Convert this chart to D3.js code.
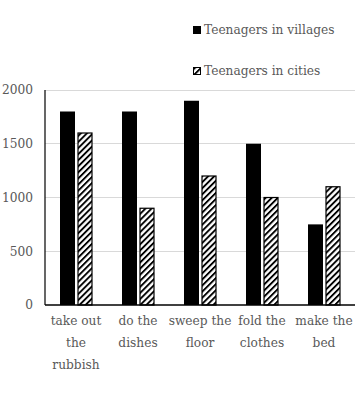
<!DOCTYPE html>
<html><head><meta charset="utf-8">
<script src="https://cdn.jsdelivr.net/npm/d3@7/dist/d3.min.js"></script>
<style>body{margin:0;background:#fff}svg{display:block}text{font-family:"DejaVu Serif",serif}</style>
</head><body>
<svg id="c" width="355" height="404"></svg>
<script>
const categories = [["take out","the","rubbish"],["do the","dishes"],["sweep the","floor"],["fold the","clothes"],["make the","bed"]];
const seriesNames = ["Teenagers in villages","Teenagers in cities"];
const villages = [1800,1800,1900,1500,750];
const cities = [1600,900,1200,1000,1100];
const yTicks = [0,500,1000,1500,2000];

(function(){
const svg = d3.select("#c");
const textColor = "#595959";
const fs = 12.2;
const pLeft = 45, pRight = 355, pTop = 90, pBottom = 305;

const defs = svg.append("defs");
const pat = defs.append("pattern").attr("id","hatch").attr("patternUnits","userSpaceOnUse")
  .attr("width",4.3).attr("height",4.3).attr("patternTransform","rotate(45)");
pat.append("rect").attr("width",4.3).attr("height",4.3).attr("fill","#fff");
pat.append("rect").attr("x",0).attr("y",0).attr("width",1.9).attr("height",4.3).attr("fill","#000");

const x = d3.scaleBand().domain(d3.range(categories.length)).range([pLeft, pRight]);
const y = d3.scaleLinear().domain([0,2000]).range([pBottom, pTop]);

svg.append("g").selectAll("line").data(yTicks.filter(d=>d>0)).join("line")
  .attr("x1",pLeft).attr("x2",pRight).attr("y1",d=>y(d)).attr("y2",d=>y(d))
  .attr("stroke","#d9d9d9").attr("stroke-width",1).attr("shape-rendering","crispEdges");

svg.append("g").selectAll("text").data(yTicks).join("text")
  .attr("x",33).attr("y",d=>y(d)).attr("dy","0.35em").attr("text-anchor","end")
  .attr("font-size",fs).attr("fill",textColor).text(d=>d);

const bw = 15, gap = 3;
const g = svg.append("g");
g.selectAll("rect.v").data(villages).join("rect").attr("class","v")
  .attr("x",(d,i)=>x(i)+x.bandwidth()/2 - bw - gap/2 + 0.5).attr("width",bw)
  .attr("y",d=>y(d)).attr("height",d=>y(0)-y(d)).attr("fill","#000");
g.selectAll("rect.c").data(cities).join("rect").attr("class","c")
  .attr("x",(d,i)=>x(i)+x.bandwidth()/2 + gap/2 + 0.5).attr("width",bw-1)
  .attr("y",d=>y(d)).attr("height",d=>y(0)-y(d)).attr("fill","url(#hatch)")
  .attr("stroke","#000").attr("stroke-width",1.2);

svg.append("line").attr("x1",pLeft).attr("x2",pLeft).attr("y1",pTop).attr("y2",pBottom)
  .attr("stroke","#000").attr("stroke-width",1.2);
svg.append("line").attr("x1",pLeft).attr("x2",pRight).attr("y1",pBottom).attr("y2",pBottom)
  .attr("stroke","#000").attr("stroke-width",1.5);

const xl = svg.append("g").selectAll("text").data(categories).join("text")
  .attr("x",(d,i)=>x(i)+x.bandwidth()/2).attr("y",325).attr("text-anchor","middle")
  .attr("font-size",fs).attr("fill",textColor);
xl.selectAll("tspan").data(d=>d).join("tspan")
  .attr("x",function(){return this.parentNode.getAttribute("x");})
  .attr("dy",(d,i)=>i===0?0:22).text(d=>d);

const leg = svg.append("g");
seriesNames.forEach((n,i)=>{
  const ly = 30 + i*41;
  leg.append("rect").attr("x",193.5).attr("y",ly-3.5).attr("width",7).attr("height",7)
    .attr("fill", i===0 ? "#000" : "url(#hatch)").attr("stroke","#000").attr("stroke-width",1);
  leg.append("text").attr("x",204).attr("y",ly).attr("dy","0.35em")
    .attr("font-size",fs).attr("fill",textColor).text(n);
});
})();
</script>
</body></html>
